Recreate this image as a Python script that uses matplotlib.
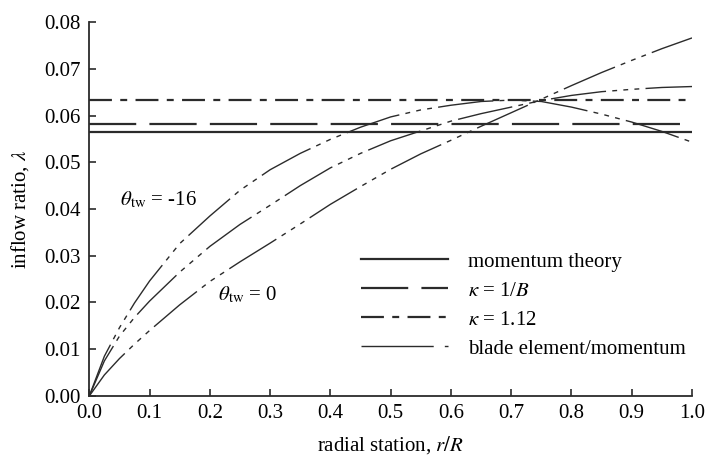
import matplotlib
matplotlib.use("Agg")
import matplotlib.pyplot as plt
from matplotlib.lines import Line2D

plt.rcParams["font.family"] = ["Liberation Serif", "DejaVu Serif"]
plt.rcParams["mathtext.fontset"] = "stix"
plt.rcParams["lines.scale_dashes"] = False

# data
r = [0.0, 0.025, 0.05, 0.075, 0.1, 0.15, 0.2, 0.25, 0.3, 0.35, 0.4, 0.45, 0.5,
     0.55, 0.6, 0.65, 0.7, 0.75, 0.8, 0.85, 0.9, 0.95, 1.0]
lam_tw16 = [0.0, 0.0085, 0.0146, 0.0199, 0.0246, 0.0326, 0.0385, 0.0440, 0.0484, 0.0519, 0.0549, 0.0575, 0.0597,
            0.0612, 0.0622, 0.0630, 0.0633, 0.0630, 0.0618, 0.0603, 0.0586, 0.0566, 0.0543]
lam_mid = [0.0, 0.0075, 0.0128, 0.0168, 0.0203, 0.0265, 0.0320, 0.0367, 0.0408, 0.0450, 0.0488, 0.0519, 0.0546,
           0.0567, 0.0588, 0.0604, 0.0618, 0.0632, 0.0643, 0.0651, 0.0656, 0.0660, 0.0662]
lam_tw0 = [0.0, 0.0045, 0.0080, 0.0111, 0.0140, 0.0195, 0.0245, 0.0287, 0.0327, 0.0368, 0.0410, 0.0448, 0.0485,
           0.0518, 0.0547, 0.0577, 0.0606, 0.0635, 0.0664, 0.0692, 0.0718, 0.0743, 0.0766]
lam_momentum = 0.0565
lam_kappa_B = 0.0582
lam_kappa_112 = 0.0633

xticks = [0.0, 0.1, 0.2, 0.3, 0.4, 0.5, 0.6, 0.7, 0.8, 0.9, 1.0]
yticks = [0.00, 0.01, 0.02, 0.03, 0.04, 0.05, 0.06, 0.07, 0.08]

ink = "#2b2b2b"
fs = 15

fig = plt.figure(figsize=(7.11, 4.59), dpi=100)
ax = fig.add_axes([0.1256, 0.1373, 0.8477, 0.8147])

ax.axhline(lam_momentum, color=ink, lw=1.6)
ax.axhline(lam_kappa_B, color=ink, lw=1.6, dashes=(34, 9.5))
ax.axhline(lam_kappa_112, color=ink, lw=1.6, dashes=(16.5, 6, 5, 6))

bem = (40, 4.5, 3.5, 4.5, 3.5, 4.5, 3.5, 4.5)
for lam in (lam_tw16, lam_mid, lam_tw0):
    ax.plot(r, lam, color=ink, lw=1.0, dashes=bem)

ax.text(0.051, 0.0419, r"$\theta_{\rm tw}$ = -16", fontsize=fs, va="center", ha="left")
ax.text(0.213, 0.0216, r"$\theta_{\rm tw}$ = 0", fontsize=fs, va="center", ha="left")

handles = [
    Line2D([], [], color=ink, lw=1.6),
    Line2D([], [], color=ink, lw=1.6, dashes=(34, 9.5)),
    Line2D([], [], color=ink, lw=1.6, dashes=(16.5, 6, 5, 6)),
    Line2D([], [], color=ink, lw=1.0, dashes=(52, 8, 4, 8)),
]
labels = ["momentum theory", r"$\kappa$ = 1/$B$", r"$\kappa$ = 1.12", "blade element/momentum"]
ax.legend(handles, labels, loc="lower right", bbox_to_anchor=(1.021, 0.05), frameon=False,
          fontsize=fs, handlelength=4.2, handletextpad=0.95, labelspacing=0.45)

ax.set_xlim(0, 1.0)
ax.set_ylim(0, 0.08)
ax.set_xticks(xticks)
ax.set_yticks(yticks)
ax.set_xticklabels([f"{v:.1f}" for v in xticks])
ax.set_yticklabels([f"{v:.2f}" for v in yticks])
ax.spines["top"].set_visible(False)
ax.spines["right"].set_visible(False)
for s in ("left", "bottom"):
    ax.spines[s].set_color(ink)
    ax.spines[s].set_linewidth(1.3)
ax.tick_params(direction="in", length=5, width=1.2, color=ink, labelsize=fs, pad=6)

ax.set_xlabel(r"radial station, $r/R$", fontsize=fs, labelpad=8)
ax.set_ylabel(r"inflow ratio, $\lambda$", fontsize=fs, labelpad=10)

fig.savefig("out.png", dpi=100)
